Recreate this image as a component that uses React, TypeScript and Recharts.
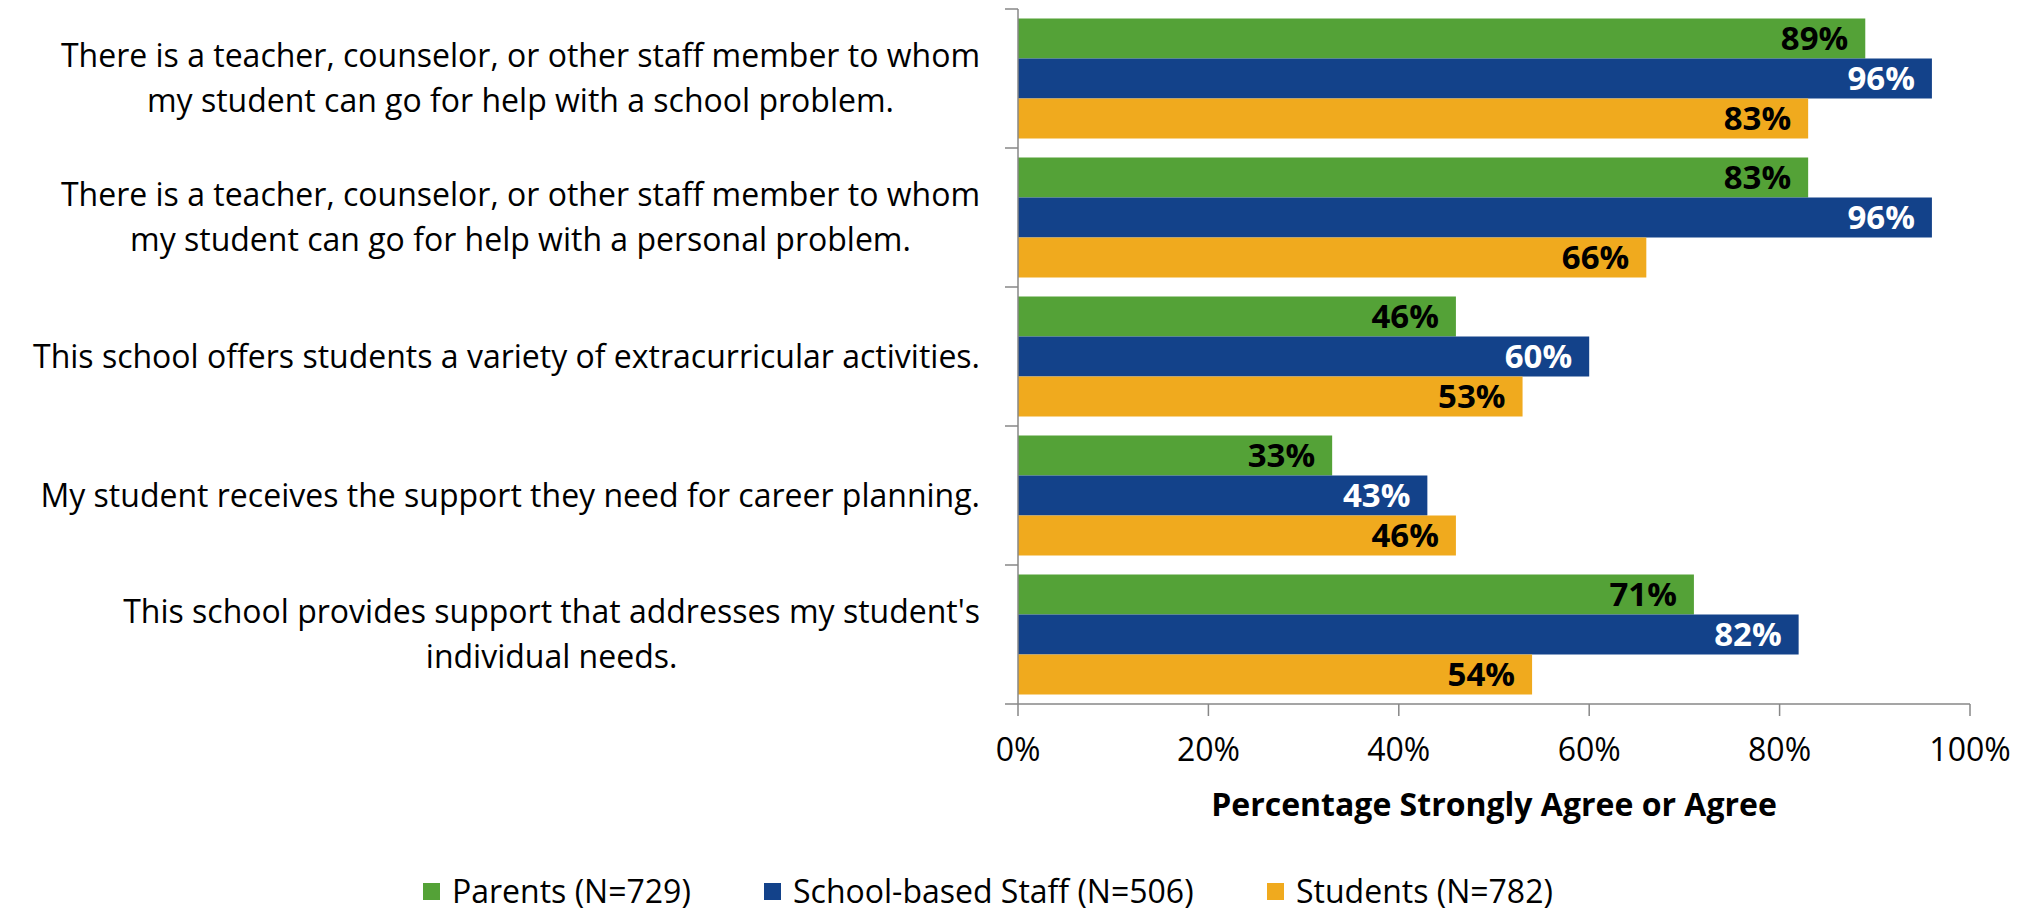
import { BarChart, Bar, XAxis, YAxis, LabelList, Legend } from 'recharts';

const CATEGORIES = [
  'There is a teacher, counselor, or other staff member to whom\nmy student can go for help with a school problem.',
  'There is a teacher, counselor, or other staff member to whom\nmy student can go for help with a personal problem.',
  'This school offers students a variety of extracurricular activities.',
  'My student receives the support they need for career planning.',
  "This school provides support that addresses my student's\nindividual needs.",
];
const PARENTS = [89, 83, 46, 33, 71];
const STAFF = [96, 96, 60, 43, 82];
const STUDENTS = [83, 66, 53, 46, 54];
const X_TICKS = [0, 20, 40, 60, 80, 100];

const SERIES = [
  { key: 'parents', name: 'Parents (N=729)', color: '#54A237', text: '#000000' },
  { key: 'staff', name: 'School-based Staff (N=506)', color: '#13428A', text: '#FFFFFF' },
  { key: 'students', name: 'Students (N=782)', color: '#F0AA1E', text: '#000000' },
];

const FONT = '"Open Sans", sans-serif';
const FS = 32;
const AXIS = '#878787';

const data = CATEGORIES.map((name, i) => ({
  name,
  parents: PARENTS[i],
  staff: STAFF[i],
  students: STUDENTS[i],
}));

let ctx: CanvasRenderingContext2D | null = null;
function textWidth(s: string) {
  if (!ctx) ctx = document.createElement('canvas').getContext('2d');
  if (!ctx) return s.length * FS * 0.5;
  ctx.font = `${FS}px ${FONT}`;
  return ctx.measureText(s).width;
}

function CategoryTick(props: any) {
  const { x, y, payload, index } = props;
  const half = payload?.offset || 69.5;
  const lines: string[] = String(payload.value).split('\n');
  const maxW = Math.max(...lines.map(textWidth));
  const cx = x - maxW / 2;
  const lh = 45;
  const startY = y - ((lines.length - 1) * lh) / 2;
  const axisX = 1018;
  return (
    <g>
      <line x1={axisX - 13} x2={axisX} y1={y - half} y2={y - half} stroke={AXIS} strokeWidth={1.5} />
      {index === CATEGORIES.length - 1 && (
        <line x1={axisX - 13} x2={axisX} y1={y + half} y2={y + half} stroke={AXIS} strokeWidth={1.5} />
      )}
      {lines.map((l, i) => (
        <text
          key={i}
          x={cx}
          y={startY + i * lh}
          dy="0.35em"
          textAnchor="middle"
          fontFamily={FONT}
          fontSize={FS}
          fill="#000"
        >
          {l}
        </text>
      ))}
    </g>
  );
}

const LEGEND_X = [423, 764, 1267];

function renderLegend() {
  return (
    <div style={{ position: 'relative', width: 2030, height: 32, fontFamily: FONT, fontSize: FS, lineHeight: '32px' }}>
      {SERIES.map((s, i) => (
        <div
          key={s.key}
          style={{ position: 'absolute', left: LEGEND_X[i], top: 0, height: 32, display: 'flex', alignItems: 'center' }}
        >
          <span style={{ display: 'inline-block', width: 17, height: 17, background: s.color, marginRight: 12 }} />
          <span style={{ color: '#000', whiteSpace: 'nowrap' }}>{s.name}</span>
        </div>
      ))}
    </div>
  );
}

export default function App() {
  return (
    <div style={{ position: 'absolute', left: 0, top: 0, width: 2030, height: 908, background: '#fff' }}>
      <BarChart
        width={2030}
        height={908}
        data={data}
        layout="vertical"
        margin={{ top: 9, right: 60, left: 0, bottom: 0 }}
        barCategoryGap="6.8%"
        barGap={0}
      >
        <XAxis
          type="number"
          domain={[0, 100]}
          ticks={X_TICKS}
          tickFormatter={(v: number) => `${v}%`}
          height={204}
          tickSize={12}
          tickMargin={22}
          axisLine={{ stroke: AXIS, strokeWidth: 1.5 }}
          tickLine={{ stroke: AXIS, strokeWidth: 1.5 }}
          tick={{ fill: '#000', fontSize: FS, fontFamily: FONT }}
          interval={0}
          label={{
            value: 'Percentage Strongly Agree or Agree',
            position: 'insideTop',
            offset: 89,
            fill: '#000',
            fontSize: FS,
            fontWeight: 'bold',
            fontFamily: FONT,
          }}
        />
        <YAxis
          type="category"
          dataKey="name"
          width={1018}
          tickSize={0}
          tickMargin={38}
          tickLine={false}
          axisLine={{ stroke: AXIS, strokeWidth: 1.5 }}
          tick={<CategoryTick />}
          interval={0}
        />
        <Legend
          layout="horizontal"
          verticalAlign="middle"
          align="center"
          wrapperStyle={{ top: 875, left: 0, width: 2030, height: 32 }}
          content={renderLegend}
        />
        {SERIES.map((s) => (
          <Bar key={s.key} dataKey={s.key} name={s.name} fill={s.color} isAnimationActive={false}>
            <LabelList
              dataKey={s.key}
              position="insideRight"
              offset={17}
              formatter={(v: any) => `${v}%`}
              fill={s.text}
              fontSize={33}
              fontWeight="bold"
              fontFamily={FONT}
            />
          </Bar>
        ))}
      </BarChart>
    </div>
  );
}
